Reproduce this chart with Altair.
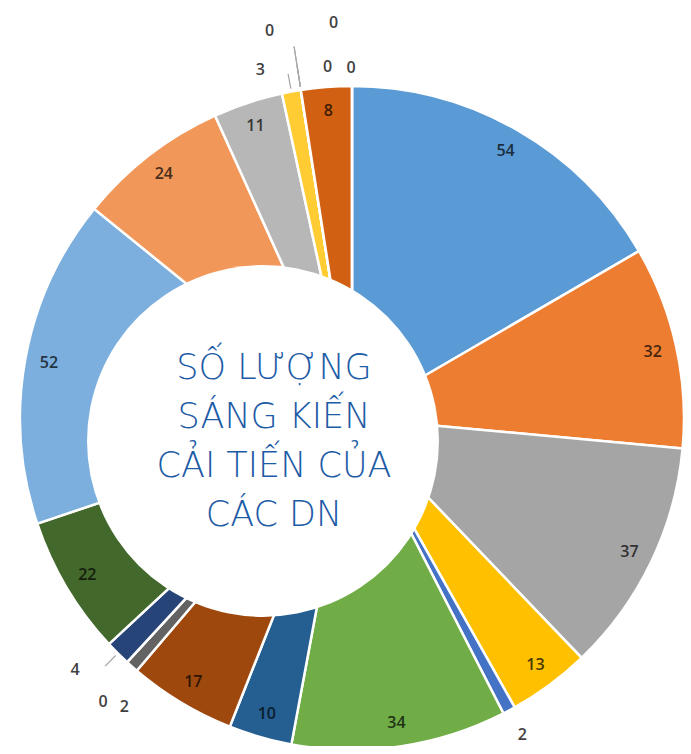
import math
import altair as alt
import pandas as pd

# ---------------- data ----------------
values = [54, 32, 37, 13, 2, 34, 10, 17, 2, 0, 4, 22, 52, 24, 11, 3, 0, 0, 0, 8, 0]
categories = [f"DN {i + 1}" for i in range(len(values))]
palette = ["#5B9BD5", "#ED7D31", "#A5A5A5", "#FFC000", "#4472C4", "#70AD47",
           "#255E91", "#9E480E", "#636363", "#997300", "#264478", "#43682B",
           "#7CAFDD", "#F1975A", "#B7B7B7", "#FFCD33", "#698ED0", "#8CC168",
           "#327DC2", "#D26012", "#848484"]
title_lines = ["SỐ LƯỢNG", "SÁNG KIẾN", "CẢI TIẾN CỦA", "CÁC DN"]

# ---------------- layout ----------------
W, H = 675, 738
CX, CY = 344, 410          # pie centre
R = 332                    # pie radius
LABEL_R = 308              # radius of the inside labels
OUT_R = 360                # radius of the outside labels
HOLE_X, HOLE_Y, HOLE_R = 255, 433, 176
# outside labels: index -> (dx, dy, leader length or 0)
OUTSIDE = {4: (0, 0, 0), 8: (11, 20, 0), 9: (-5, 19, 0), 10: (-23, -3, 14),
           15: (-26, 6, 14), 16: (-27, -31, 40), 17: (37, -39, 40),
           18: (31, 5, 20), 20: (-1, 10, 0)}


def darken(hex_color, f=0.3):
    r, g, b = (int(hex_color[i:i + 2], 16) for i in (1, 3, 5))
    return "#%02x%02x%02x" % (int(r * f), int(g * f), int(b * f))


df = pd.DataFrame({
    "cat": categories,
    "value": values,
    "order": list(range(len(values))),
    "label_color": [darken(c) for c in palette],
})
total = sum(values)
theta_scale = alt.Scale(domain=[0, total], range=[0, 2 * math.pi])
color_scale = alt.Scale(domain=categories, range=palette)

base = (
    alt.Chart(df)
    .transform_window(cum="sum(value)", sort=[{"field": "order"}], frame=[None, 0])
    .transform_calculate(start="datum.cum - datum.value", mid="datum.cum - datum.value / 2")
)
center = dict(x=alt.value(CX), y=alt.value(CY))

pie = base.mark_arc(outerRadius=R, stroke="white", strokeWidth=2.5).encode(
    theta=alt.Theta("start:Q", scale=theta_scale),
    theta2="cum:Q",
    color=alt.Color("cat:N", scale=color_scale, legend=None),
    **center,
)

inside = base.transform_filter("datum.value >= 5").mark_text(
    radius=LABEL_R, fontSize=16, font="Open Sans", fontWeight=600,
    align="center", baseline="middle"
).encode(
    theta=alt.Theta("mid:Q", scale=theta_scale),
    text="value:Q",
    color=alt.Color("label_color:N", scale=None),
    **center,
)

outside_layers = []
leader_layers = []
for idx, (dx, dy, lead) in OUTSIDE.items():
    sub = base.transform_filter(f"datum.order == {idx}")
    outside_layers.append(
        sub.mark_text(radius=OUT_R, dx=dx, dy=dy, fontSize=16, font="Open Sans",
                      fontWeight=600, color="#404040", align="center",
                      baseline="middle").encode(
            theta=alt.Theta("mid:Q", scale=theta_scale), text="value:Q", **center)
    )
    if lead:
        leader_layers.append(
            sub.mark_arc(radius=R + 4 + lead, radius2=R + 3, stroke="#a6a6a6",
                         strokeWidth=1.2, fill="transparent").encode(
                theta=alt.Theta("mid:Q", scale=theta_scale), theta2="mid:Q", **center)
        )

hole = alt.Chart(pd.DataFrame({"k": [0]})).mark_arc(
    radius=HOLE_R, theta=0, theta2=2 * math.pi, fill="white"
).encode(x=alt.value(HOLE_X), y=alt.value(HOLE_Y))

title = alt.Chart(pd.DataFrame({"t": ["\n".join(title_lines)]})).mark_text(
    lineBreak="\n", lineHeight=49, fontSize=35, font="DejaVu Sans", fontWeight=200,
    color="#1D5BA6", align="center", baseline="middle"
).encode(text="t:N", x=alt.value(266), y=alt.value(360))

chart = alt.layer(pie, *leader_layers, hole, inside, *outside_layers, title).properties(
    width=W, height=H, autosize=alt.AutoSizeParams(type="none"), padding=0,
    background="white",
).configure_view(stroke=None)

chart.save("out.html", embed_options={"renderer": "svg", "actions": False})
